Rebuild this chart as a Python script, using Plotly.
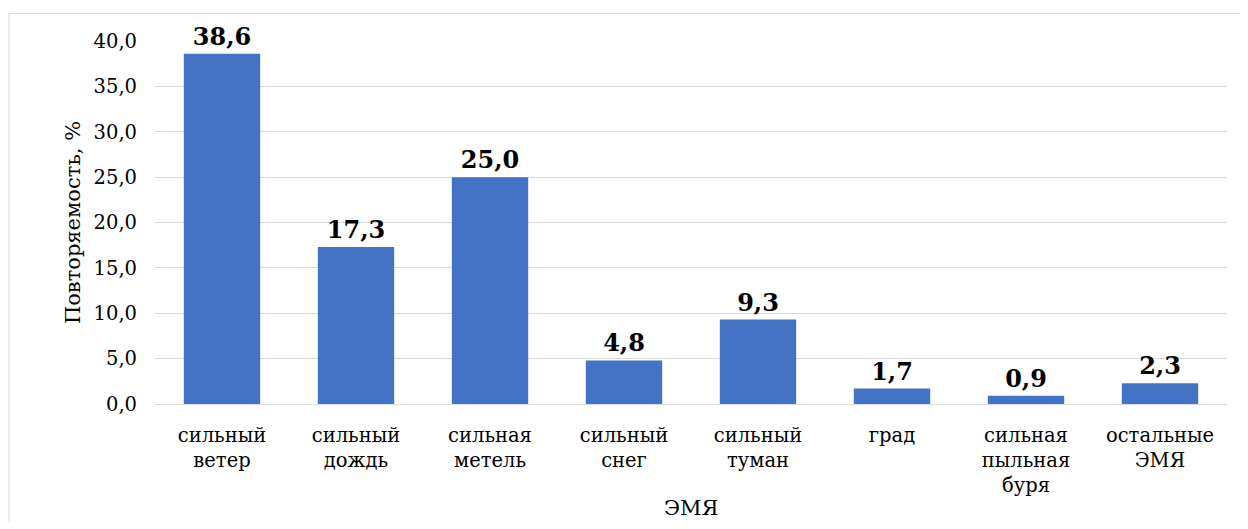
import plotly.graph_objects as go

categories = ["сильный<br>ветер", "сильный<br>дождь", "сильная<br>метель", "сильный<br>снег",
              "сильный<br>туман", "град", "сильная<br>пыльная<br>буря", "остальные<br>ЭМЯ"]
values = [38.6, 17.3, 25.0, 4.8, 9.3, 1.7, 0.9, 2.3]
y_ticks = [0, 5, 10, 15, 20, 25, 30, 35, 40]
x_title = "ЭМЯ"
y_title = "Повторяемость, %"

FONT = "DejaVu Serif"

fig = go.Figure(go.Bar(
    x=categories, y=values,
    marker=dict(color="#4472C4", line=dict(width=0)),
    texttemplate="%{y:.1f}", textposition="outside",
    textfont=dict(family=FONT, size=24, color="black", weight="bold"),
    cliponaxis=False,
))

fig.update_layout(
    width=1232, height=513,
    margin=dict(l=147, r=13, t=33, b=117),
    plot_bgcolor="white", paper_bgcolor="white",
    separators=", ",
    bargap=0.43,
    font=dict(family=FONT, size=20, color="black"),
    showlegend=False,
    xaxis=dict(
        tickfont=dict(family=FONT, size=19.5), showgrid=False, showline=False, ticks="",
        ticklabelstandoff=17, automargin=False,
    ),
    yaxis=dict(
        title=dict(text=y_title, font=dict(family=FONT, size=21), standoff=7),
        range=[0, 40], tickvals=y_ticks, tickformat=".1f",
        tickfont=dict(family=FONT, size=19.5), automargin=False,
        showgrid=True, gridcolor="#d9d9d9", gridwidth=1,
        zeroline=True, zerolinecolor="#d9d9d9", zerolinewidth=1,
        showline=False, ticks="", ticklabelstandoff=17,
    ),
    annotations=[dict(text=x_title, xref="paper", yref="paper", x=0.5,
                      y=(404 - 508) / 363, yanchor="middle", xanchor="center",
                      showarrow=False, font=dict(family=FONT, size=21, color="black"))],
    shapes=[dict(type="rect", xref="paper", yref="paper",
                 x0=(9 - 155) / 1072, x1=(1260 - 155) / 1072,
                 y0=(404 - 540) / 363, y1=(404 - 13.5) / 363,
                 line=dict(color="#d9d9d9", width=1), layer="below")],
)

fig.write_html("out.html")
